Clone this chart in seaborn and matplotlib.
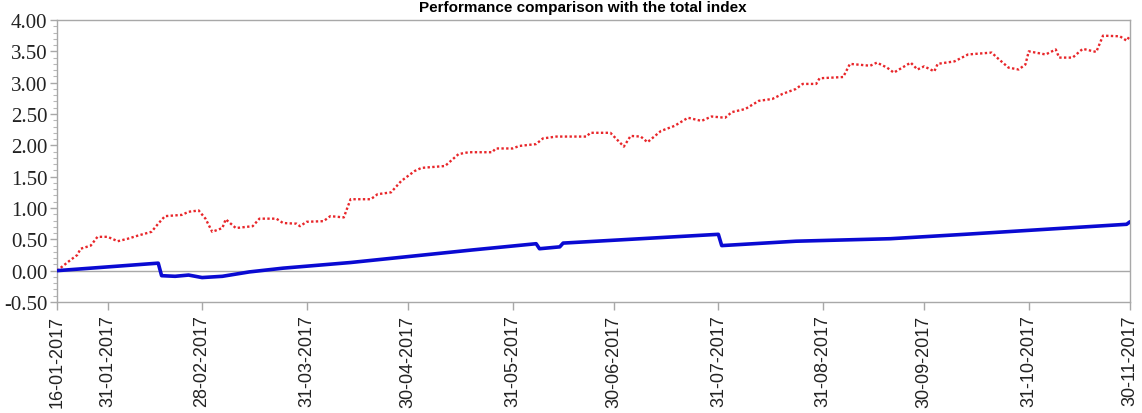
import numpy as np
import pandas as pd
import matplotlib
matplotlib.use("Agg")
import matplotlib.pyplot as plt
import matplotlib.dates as mdates
from matplotlib.ticker import MultipleLocator, FormatStrFormatter
import seaborn as sns

# ---------------- data ----------------
start_date = "2017-01-16"

# red dotted series: day offsets from start and values
red_days = [0, 4, 6, 7, 10, 12, 15, 18, 21, 24, 28, 30, 32, 37, 39, 42, 44, 46,
            49, 50, 53, 58, 60, 65, 67, 71, 72, 74, 79, 81, 85, 87, 93, 95, 99,
            102, 106, 108, 115, 119, 122, 129, 130, 135, 137, 142, 144, 148, 157,
            158, 164, 168, 170, 173, 175, 179, 183, 187, 191, 194, 198, 200, 204,
            208, 212, 215, 219, 221, 225, 226, 233, 235, 241, 243, 246, 248, 253,
            255, 257, 260, 261, 266, 270, 277, 279, 282, 285, 287, 288, 293, 296,
            297, 301, 304, 308, 310, 315, 317, 318]
red_values = [0.00, 0.17, 0.25, 0.35, 0.40, 0.54, 0.54, 0.47, 0.51, 0.56, 0.62,
              0.75, 0.87, 0.89, 0.94, 0.96, 0.83, 0.62, 0.68, 0.82, 0.68, 0.71,
              0.83, 0.83, 0.76, 0.75, 0.71, 0.78, 0.79, 0.87, 0.85, 1.14, 1.14,
              1.22, 1.25, 1.43, 1.59, 1.64, 1.67, 1.86, 1.89, 1.89, 1.95, 1.95,
              1.99, 2.02, 2.11, 2.14, 2.14, 2.20, 2.20, 1.98, 2.15, 2.14, 2.05,
              2.23, 2.31, 2.44, 2.39, 2.46, 2.44, 2.53, 2.58, 2.71, 2.74, 2.82,
              2.90, 2.98, 2.98, 3.07, 3.09, 3.30, 3.27, 3.32, 3.24, 3.16, 3.32,
              3.21, 3.26, 3.18, 3.30, 3.34, 3.45, 3.48, 3.38, 3.24, 3.21, 3.29,
              3.50, 3.45, 3.53, 3.40, 3.40, 3.54, 3.49, 3.75, 3.74, 3.67, 3.75]

# blue solid series
blue_days = [0, 30, 31, 35, 39, 43, 49, 57, 67, 87, 105, 123, 142, 143, 149, 150,
             173, 196, 197, 219, 247, 269, 317, 318]
blue_values = [0.00, 0.12, -0.08, -0.09, -0.07, -0.11, -0.09, -0.02, 0.04, 0.13,
               0.23, 0.33, 0.43, 0.35, 0.38, 0.44, 0.51, 0.58, 0.40, 0.47, 0.51,
               0.58, 0.74, 0.78]

tick_dates = ["16-01-2017", "31-01-2017", "28-02-2017", "31-03-2017", "30-04-2017",
              "31-05-2017", "30-06-2017", "31-07-2017", "31-08-2017", "30-09-2017",
              "31-10-2017", "30-11-2017"]

title_text = "Performance comparison with the total index"

# ---------------- build frames ----------------
t0 = pd.Timestamp(start_date)
red_df = pd.DataFrame({"date": t0 + pd.to_timedelta(red_days, unit="D"),
                       "value": red_values})
blue_df = pd.DataFrame({"date": t0 + pd.to_timedelta(blue_days, unit="D"),
                        "value": blue_values})
ticks = pd.to_datetime(tick_dates, format="%d-%m-%Y")

# ---------------- style ----------------
sns.set_style("white")
plt.rcParams["font.family"] = ["Liberation Sans", "DejaVu Sans"]

fig = plt.figure(figsize=(11.42, 4.14), dpi=100)
ax = fig.add_axes([57 / 1142, 1 - 303 / 414, (1130 - 57) / 1142, (303 - 21) / 414])

ax.axhline(0, color="#a8a8a8", lw=1.0, zorder=1)

sns.lineplot(data=red_df, x="date", y="value", ax=ax, color="#e8262a",
             lw=1.7, linestyle=(0, (1, 1)), zorder=3)
sns.lineplot(data=blue_df, x="date", y="value", ax=ax, color="#0a0ad2",
             lw=2.6, zorder=4)

ax.set_xlim(ticks[0], ticks[-1])
ax.set_ylim(-0.5, 4.0)
ax.set_xlabel("")
ax.set_ylabel("")

ax.set_xticks(ticks)
ax.xaxis.set_major_formatter(mdates.DateFormatter("%d-%m-%Y"))
ax.yaxis.set_major_locator(MultipleLocator(0.5))
ax.yaxis.set_minor_locator(MultipleLocator(0.1))
ax.yaxis.set_major_formatter(FormatStrFormatter("%.2f"))

for lab in ax.get_xticklabels():
    lab.set_rotation(90)
    lab.set_fontsize(13)
    lab.set_color("#222222")
    lab.set_family(["Liberation Sans", "DejaVu Sans"])
for lab in ax.get_yticklabels():
    lab.set_fontsize(15)
    lab.set_color("#222222")
    lab.set_family(["Liberation Serif", "DejaVu Serif"])

ax.tick_params(axis="x", which="major", direction="out", length=6, width=1,
               color="#a8a8a8", bottom=True, pad=3)
ax.tick_params(axis="y", which="major", direction="out", length=5, width=1,
               color="#a8a8a8", left=True, pad=2)
ax.tick_params(axis="y", which="minor", direction="out", length=3, width=0.8,
               color="#b8b8b8", left=True)

for sp in ax.spines.values():
    sp.set_color("#a8a8a8")
    sp.set_linewidth(1.0)

fig.text(0.51, 1 - 1 / 414, title_text, ha="center", va="top",
         fontsize=11, fontweight="bold", color="black")

fig.savefig("out.png", dpi=100)
